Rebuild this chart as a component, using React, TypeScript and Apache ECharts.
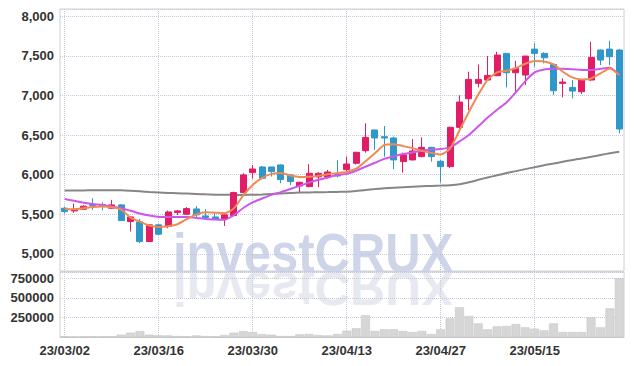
import React, { useEffect, useRef } from "react";
import * as echarts from "echarts";

const dates = [
  "23/03/02","23/03/03","23/03/06","23/03/07","23/03/08","23/03/09","23/03/10","23/03/13","23/03/14","23/03/15",
  "23/03/16","23/03/17","23/03/20","23/03/21","23/03/22","23/03/23","23/03/24","23/03/27","23/03/28","23/03/29",
  "23/03/30","23/03/31","23/04/03","23/04/04","23/04/05","23/04/06","23/04/07","23/04/10","23/04/11","23/04/12",
  "23/04/13","23/04/14","23/04/17","23/04/18","23/04/19","23/04/20","23/04/21","23/04/24","23/04/25","23/04/26",
  "23/04/27","23/04/28","23/05/02","23/05/03","23/05/04","23/05/08","23/05/09","23/05/10","23/05/11","23/05/12",
  "23/05/15","23/05/16","23/05/17","23/05/18","23/05/19","23/05/22","23/05/23","23/05/24","23/05/25","23/05/26",
];

const opens = [
  5577,5543,5564,5623,5623,5577,5619,5409,5404,5157,
  5367,5346,5522,5501,5568,5480,5467,5442,5484,5774,
  6026,6097,6097,6123,5997,5858,5850,5971,5971,6001,
  6064,6144,6303,6564,6479,6463,6165,6186,6228,6345,
  6169,6102,6597,6958,7152,7194,7248,7530,7286,7257,
  7584,7530,7391,7152,7101,7047,7194,7572,7584,7572,
];
const closes = [
  5535,5564,5602,5610,5602,5619,5421,5467,5157,5367,
  5249,5530,5543,5572,5493,5459,5442,5493,5774,5997,
  6072,5955,6039,5938,5913,5904,6018,6018,6034,5984,
  6135,6282,6471,6463,6463,6186,6249,6299,6345,6228,
  6102,6597,6916,7202,7202,7252,7509,7286,7341,7496,
  7530,7475,7059,7168,7055,7194,7479,7446,7488,6576,
];
const lows = [
  5513,5518,5555,5556,5551,5568,5415,5283,5136,5150,
  5240,5325,5490,5490,5463,5430,5430,5354,5476,5766,
  5950,5942,5976,5892,5870,5778,5842,5841,5955,5967,
  6047,6127,6278,6312,6227,6068,6026,6180,6220,6165,
  5900,6085,6572,6816,7101,7185,7244,7101,7017,7131,
  7362,7404,7005,6975,6963,7017,7185,7382,7382,6522,
];
const highs = [
  5597,5635,5615,5703,5652,5682,5627,5470,5442,5375,
  5375,5547,5555,5590,5606,5564,5530,5500,5786,6018,
  6123,6110,6100,6130,6005,5912,6131,6030,6060,6186,
  6228,6290,6648,6570,6614,6480,6278,6450,6471,6350,
  6185,6606,7000,7299,7391,7496,7551,7530,7437,7500,
  7656,7545,7395,7215,7194,7200,7676,7580,7689,7584,
];

const maShort = [
  5568,5564,5577,5593,5598,5589,5560,5459,5409,5358,
  5341,5350,5375,5440,5500,5525,5520,5515,5575,5740,
  5870,5960,6010,6022,5990,5972,5975,5985,6005,6020,
  6035,6075,6170,6270,6375,6385,6360,6335,6300,6275,
  6255,6330,6560,6790,7010,7200,7290,7310,7345,7400,
  7433,7429,7391,7298,7227,7202,7214,7278,7341,7257,
];
const maMid = [
  5692,5670,5646,5630,5618,5600,5577,5545,5510,5484,
  5467,5467,5467,5465,5455,5442,5435,5430,5490,5580,
  5650,5700,5745,5780,5820,5860,5900,5935,5965,5995,
  6010,6050,6100,6150,6200,6230,6260,6280,6305,6315,
  6324,6345,6420,6500,6610,6720,6820,6910,7040,7180,
  7290,7328,7336,7335,7330,7322,7320,7335,7349,7257,
];
const maLong = [
  5800,5801,5802,5803,5804,5805,5804,5798,5790,5782,
  5776,5770,5766,5762,5757,5752,5748,5746,5745,5745,
  5746,5750,5756,5762,5768,5774,5776,5778,5780,5783,
  5786,5795,5808,5818,5828,5836,5843,5849,5854,5858,
  5862,5868,5880,5905,5935,5965,5992,6020,6045,6070,
  6095,6120,6140,6163,6186,6205,6225,6248,6270,6290,
];

const volumes = [
  8000,6000,7000,9000,8000,10000,30000,55000,76000,30000,
  22000,20000,12000,9000,20000,12000,9000,25000,55000,76000,
  64000,38000,30000,12000,12000,34000,38000,25000,20000,38000,
  81000,111000,277000,77000,98000,98000,77000,64000,77000,38000,
  98000,238000,379000,268000,174000,98000,136000,140000,166000,123000,
  106000,85000,174000,64000,64000,64000,251000,123000,366000,749000,
];

const UP = "#e31c66";
const DOWN = "#2f97c9";
const GRID_LINE = { type: "dotted" as const, color: "#c4c8dc", width: 1 };
const LABEL_FONT = {
  color: "#333",
  fontFamily: "Liberation Sans, Arial, sans-serif",
  fontSize: 13,
  fontWeight: "bold" as const,
};
const WM_FONT = "bold 49px 'Liberation Sans', Arial, sans-serif";

export default function App() {
  const ref = useRef<HTMLDivElement>(null);

  useEffect(() => {
    if (!ref.current) return;
    const chart = echarts.init(ref.current, undefined, { renderer: "svg" });
    const candleData = dates.map((_, i) => [opens[i], closes[i], lows[i], highs[i]]);

    chart.setOption({
      animation: false,
      backgroundColor: "#fff",
      graphic: [
        {
          type: "group",
          x: 173,
          y: 272,
          z: -10,
          silent: true,
          children: [
            {
              type: "text",
              x: 0,
              y: 0,
              scaleY: 1.15,
              style: {
                text: "investCRUX",
                x: 0,
                y: -17,
                fill: "#cfd5e8",
                font: WM_FONT,
                verticalAlign: "middle",
              },
            },
            {
              type: "text",
              x: 0,
              y: 0,
              scaleY: -1.0,
              style: {
                text: "investCRUX",
                x: 0,
                y: -17,
                fill: "#e8e9f0",
                font: WM_FONT,
                verticalAlign: "middle",
              },
            },
          ],
        },
      ],
      grid: [
        { left: 60, right: 10, top: 9, height: 262, show: true, borderColor: "#d0d0d0", borderWidth: 1 },
        { left: 60, right: 10, top: 272, height: 65, show: true, borderColor: "#d0d0d0", borderWidth: 1 },
      ],
      xAxis: [
        {
          type: "category",
          gridIndex: 0,
          data: dates,
          boundaryGap: true,
          axisLine: { show: false },
          axisTick: { show: false, alignWithLabel: true },
          axisLabel: { show: false, interval: 9 },
          splitLine: { show: true, interval: 9, alignWithLabel: true, lineStyle: GRID_LINE },
        },
        {
          type: "category",
          gridIndex: 1,
          data: dates,
          boundaryGap: true,
          axisLine: { show: true, lineStyle: { color: "#c8c8c8" } },
          axisTick: { show: false, alignWithLabel: true },
          axisLabel: { ...LABEL_FONT, interval: 9, margin: 7 },
          splitLine: { show: true, interval: 9, alignWithLabel: true, lineStyle: GRID_LINE },
        },
      ],
      yAxis: [
        {
          type: "value",
          gridIndex: 0,
          min: 4785,
          max: 8090,
          splitNumber: 5,
          axisLine: { show: false },
          axisTick: { show: false },
          axisLabel: {
            ...LABEL_FONT,
            margin: 6,
            formatter: (v: number) => (v % 500 === 0 ? v.toLocaleString("en-US") : ""),
          },
          splitLine: { show: true, lineStyle: GRID_LINE },
        },
        {
          type: "value",
          gridIndex: 1,
          min: 0,
          max: 830000,
          interval: 250000,
          axisLine: { show: false },
          axisTick: { show: false },
          axisLabel: {
            ...LABEL_FONT,
            margin: 6,
            formatter: (v: number) => (v > 0 && v % 250000 === 0 ? String(v) : ""),
          },
          splitLine: { show: true, lineStyle: GRID_LINE },
        },
      ],
      series: [
        {
          type: "line",
          name: "MA long",
          xAxisIndex: 0,
          yAxisIndex: 0,
          data: maLong,
          showSymbol: false,
          smooth: 0.2,
          lineStyle: { color: "#868686", width: 2 },
          z: 2,
        },
        {
          type: "candlestick",
          xAxisIndex: 0,
          yAxisIndex: 0,
          data: candleData,
          barWidth: "70%",
          itemStyle: {
            color: UP,
            color0: DOWN,
            borderColor: UP,
            borderColor0: DOWN,
            borderWidth: 1,
          },
          z: 3,
        },
        {
          type: "line",
          name: "MA mid",
          xAxisIndex: 0,
          yAxisIndex: 0,
          data: maMid,
          showSymbol: false,
          smooth: 0.2,
          lineStyle: { color: "#cc57ea", width: 2 },
          z: 4,
        },
        {
          type: "line",
          name: "MA short",
          xAxisIndex: 0,
          yAxisIndex: 0,
          data: maShort,
          showSymbol: false,
          smooth: 0.2,
          lineStyle: { color: "#ef8a52", width: 2 },
          z: 5,
        },
        {
          type: "bar",
          xAxisIndex: 1,
          yAxisIndex: 1,
          data: volumes,
          barCategoryGap: "6%",
          itemStyle: { color: "#d6d6d6", borderColor: "#c4c4c4", borderWidth: 0.5 },
        },
      ],
    });

    return () => chart.dispose();
  }, []);

  return (
    <div
      ref={ref}
      style={{ position: "absolute", left: 0, top: 0, width: 634, height: 366 }}
    />
  );
}
